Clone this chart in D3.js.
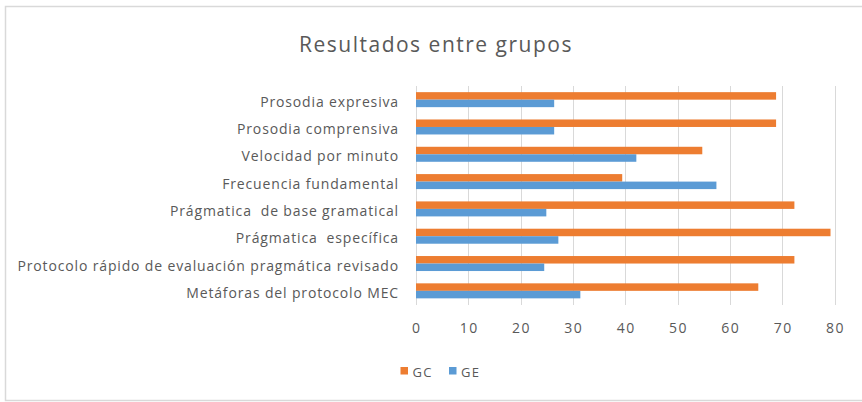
<!DOCTYPE html>
<html>
<head>
<meta charset="utf-8">
<script src="https://cdn.jsdelivr.net/npm/d3@7"></script>
<style>
  body { margin: 0; background: #fff; }
  svg { display: block; font-family: "Open Sans", sans-serif; }
</style>
</head>
<body>
<svg id="chart" width="862" height="402"></svg>
<script>
const categories = [
    "Prosodia expresiva",
    "Prosodia comprensiva",
    "Velocidad por minuto",
    "Frecuencia fundamental",
    "Prágmatica  de base gramatical",
    "Prágmatica  específica",
    "Protocolo rápido de evaluación pragmática revisado",
    "Metáforas del protocolo MEC"
];
const gcValues = [68.8, 68.8, 54.7, 39.4, 72.3, 79.2, 72.3, 65.4];
const geValues = [26.4, 26.4, 42.1, 57.4, 24.9, 27.2, 24.5, 31.4];
const seriesNames = ["GC", "GE"];
const xTicks = [0, 10, 20, 30, 40, 50, 60, 70, 80];

const colors = { GC: "#ed7d31", GE: "#5b9bd5" };
const textColor = "#595959";

const svg = d3.select("#chart");

// chart border
svg.append("rect")
    .attr("x", 5.5).attr("y", 6.5)
    .attr("width", 870).attr("height", 394)
    .attr("fill", "none")
    .attr("stroke", "#d9d9d9")
    .attr("stroke-width", 1.5);

svg.append("text")
    .attr("x", 436).attr("y", 52)
    .attr("text-anchor", "middle")
    .attr("fill", textColor)
    .style("font-size", "21px")
    .style("letter-spacing", "1.5px")
    .text("Resultados entre grupos");

const x = d3.scaleLinear().domain([0, 80]).range([416, 834.7]);
const y = d3.scaleBand().domain(categories).range([86, 304.5]);
const sub = d3.scaleBand().domain(seriesNames).range([0, 15]);
const padTop = (y.bandwidth() - 15) / 2;

// gridlines
svg.append("g")
    .selectAll("line")
    .data(xTicks)
    .join("line")
    .attr("x1", d => Math.round(x(d)) + 0.5)
    .attr("x2", d => Math.round(x(d)) + 0.5)
    .attr("y1", 86).attr("y2", 305)
    .attr("stroke", "#d9d9d9")
    .attr("stroke-width", 1);

// x tick labels
svg.append("g")
    .selectAll("text")
    .data(xTicks)
    .join("text")
    .attr("x", d => x(d) + 0.8)
    .attr("y", 333)
    .attr("text-anchor", "middle")
    .attr("fill", textColor)
    .style("font-size", "14px")
    .style("letter-spacing", "1.5px")
    .text(d => d);

// category labels
svg.append("g")
    .selectAll("text")
    .data(categories)
    .join("text")
    .attr("x", 399)
    .attr("y", d => y(d) + y.bandwidth() / 2 + 7)
    .attr("text-anchor", "end")
    .attr("fill", textColor)
    .style("font-size", "14px")
    .style("letter-spacing", "0.85px")
    .style("white-space", "pre")
    .text(d => d);

// bars
const rows = categories.map((c, i) => ({ cat: c, GC: gcValues[i], GE: geValues[i] }));
const groups = svg.append("g")
    .selectAll("g")
    .data(rows)
    .join("g")
    .attr("transform", d => `translate(0,${y(d.cat) + padTop})`);

groups.selectAll("rect")
    .data(d => seriesNames.map(s => ({ s, v: d[s] })))
    .join("rect")
    .attr("x", x(0))
    .attr("y", d => sub(d.s))
    .attr("width", d => x(d.v) - x(0))
    .attr("height", sub.bandwidth())
    .attr("fill", d => colors[d.s]);

// legend
const legendX = [400.5, 449];
const legend = svg.append("g")
    .selectAll("g")
    .data(seriesNames)
    .join("g")
    .attr("transform", (d, i) => `translate(${legendX[i]},367)`);

legend.append("rect")
    .attr("width", 7.5).attr("height", 7.5)
    .attr("fill", d => colors[d]);

legend.append("text")
    .attr("x", 12).attr("y", 10)
    .attr("fill", textColor)
    .style("font-size", "13px")
    .style("letter-spacing", "1.2px")
    .text(d => d);
</script>
</body>
</html>
